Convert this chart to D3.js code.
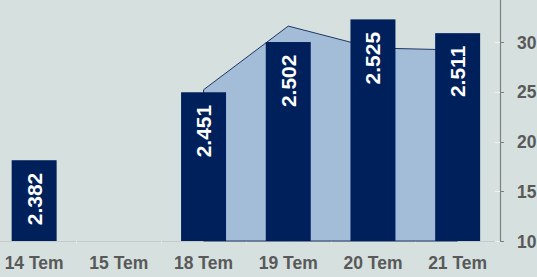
<!DOCTYPE html>
<html><head><meta charset="utf-8">
<script src="https://cdn.jsdelivr.net/npm/d3@7"></script>
<style>
html,body{margin:0;padding:0;background:#d5e0df;overflow:hidden;}
svg{display:block;font-family:"Liberation Sans",Arial,sans-serif;}
</style></head>
<body>
<svg id="c" width="537" height="277"></svg>
<script>
const categories = ["14 Tem","15 Tem","18 Tem","19 Tem","20 Tem","21 Tem"];
const barValues = [2.382, null, 2.451, 2.502, 2.525, 2.511];
const barLabels = ["2.382", "", "2.451", "2.502", "2.525", "2.511"];
const areaValues = [null, null, 25.2, 31.6, 29.4, 29.2];
const rightTicks = [10, 15, 20, 25, 30];
const rightTickLabels = ["10", "15", "20", "25", "30"];

const svg = d3.select("#c");
const baseY = 241;
const x = d3.scaleBand().domain(categories).range([-8.2, 500]).padding(0);
const yL = d3.scaleLinear().domain([2.3, 2.55]).range([baseY, baseY - 0.25 * 985]);
const yR = d3.scaleLinear().domain([10, 35]).range([baseY, baseY - 25 * 9.95]);
const barW = x.bandwidth() * 0.531;
const cx = c => x(c) + x.bandwidth() / 2;

// x axis baseline
svg.append("line").attr("x1", 0).attr("x2", 500).attr("y1", baseY + 0.5).attr("y2", baseY + 0.5)
  .attr("stroke", "#c3cbcb").attr("stroke-width", 1.2);
categories.forEach((c, i) => {
  if (i === 0) return;
  svg.append("line").attr("x1", Math.round(x(c)) + 0.5).attr("x2", Math.round(x(c)) + 0.5)
    .attr("y1", baseY).attr("y2", baseY + 3).attr("stroke", "#e3e9e9");
});

// area series
const areaData = categories.map((c, i) => ({c, v: areaValues[i]})).filter(d => d.v != null);
const area = d3.area().x(d => cx(d.c)).y0(yR(10)).y1(d => yR(d.v));
svg.append("path").datum(areaData).attr("d", area)
  .attr("fill", "#a3bcd8").attr("stroke", "#1f3864").attr("stroke-width", 1);

// bars
const barData = categories.map((c, i) => ({c, v: barValues[i], l: barLabels[i]})).filter(d => d.v != null);
svg.selectAll("rect.bar").data(barData).join("rect").attr("class", "bar")
  .attr("x", d => cx(d.c) - barW / 2).attr("width", barW)
  .attr("y", d => yL(d.v)).attr("height", d => yL(2.3) - yL(d.v))
  .attr("fill", "#00205c");

svg.selectAll("text.bl").data(barData).join("text").attr("class", "bl")
  .attr("transform", d => `translate(${cx(d.c) + 7.5},${yL(d.v) + 12.5}) rotate(-90)`)
  .attr("text-anchor", "end").attr("fill", "#ffffff")
  .attr("font-size", 21).attr("font-weight", "bold").text(d => d.l);

// x labels
svg.selectAll("text.xl").data(categories).join("text").attr("class", "xl")
  .attr("x", d => cx(d)).attr("y", 269).attr("text-anchor", "middle")
  .attr("fill", "#595959").attr("font-size", 17.5).attr("font-weight", "bold").text(d => d);

// right axis
svg.append("line").attr("x1", 500.5).attr("x2", 500.5).attr("y1", -10).attr("y2", baseY + 0.5)
  .attr("stroke", "#7f7f7f").attr("stroke-width", 1.2);
rightTicks.forEach((t, i) => {
  const yy = Math.round(yR(t)) + 0.5;
  svg.append("line").attr("x1", 495).attr("x2", 500).attr("y1", yy).attr("y2", yy).attr("stroke", "#eef2f2");
  svg.append("line").attr("x1", 500).attr("x2", 504).attr("y1", yy).attr("y2", yy).attr("stroke", "#7f7f7f");
  svg.append("text").attr("x", 517).attr("y", yR(t) + 6.6)
    .attr("fill", "#595959").attr("font-size", 17.5).attr("font-weight", "bold").text(rightTickLabels[i]);
});
</script>
</body></html>
